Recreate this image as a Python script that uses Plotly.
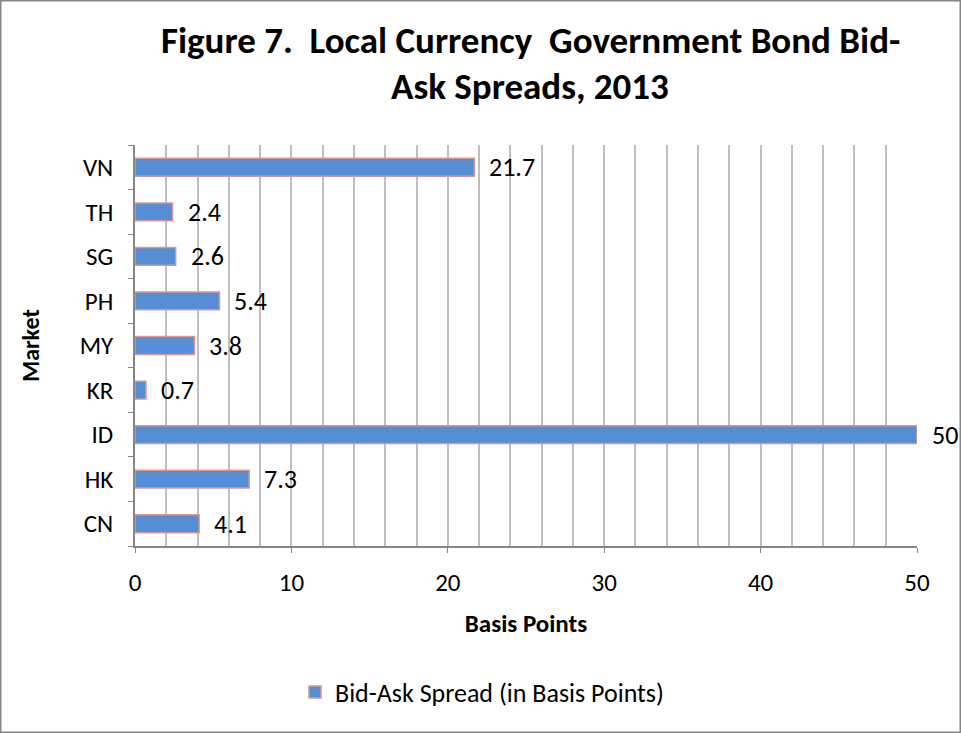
import plotly.graph_objects as go

markets = ["CN", "HK", "ID", "KR", "MY", "PH", "SG", "TH", "VN"]
spreads = [4.1, 7.3, 50, 0.7, 3.8, 5.4, 2.6, 2.4, 21.7]
labels = ["4.1", "7.3", "50", "0.7", "3.8", "5.4", "2.6", "2.4", "21.7"]
x_ticks = [0, 10, 20, 30, 40, 50]
title_lines = ["<b>Figure 7.  Local Currency  Government Bond Bid-</b>",
               "<b>Ask Spreads, 2013</b>"]

FONT = "Carlito, Calibri, Lato, sans-serif"
W, H = 961, 733
L, R, T, B = 135, 44, 145, 187
pw, ph = W - L - R, H - T - B

fig = go.Figure()
fig.add_trace(go.Bar(
    x=spreads, y=markets, orientation="h",
    name="Bid-Ask Spread (in Basis Points)",
    marker=dict(color="#558ED5", line=dict(color="#D99694", width=1.5)),
    width=0.4,
))

for m, v, t in zip(markets, spreads, labels):
    fig.add_annotation(x=v, y=m, text=t, showarrow=False, xanchor="left",
                       xshift=13, font=dict(size=26, color="black", family=FONT))

for i, (line, ypx) in enumerate(zip(title_lines, [40, 87])):
    fig.add_annotation(x=(530 - L) / pw, xref="paper", y=1 + (T - ypx) / ph, yref="paper",
                       text=line, showarrow=False, xanchor="center", yanchor="middle",
                       font=dict(size=37, color="black", family=FONT))

fig.update_layout(
    width=W, height=H,
    paper_bgcolor="white", plot_bgcolor="white",
    margin=dict(l=L, r=R, t=T, b=B, autoexpand=False),
    font=dict(family=FONT, size=24, color="black"),
    showlegend=True,
    legend=dict(orientation="h", x=(482 - L) / pw, xanchor="center",
                y=(T + ph - 692) / ph, yanchor="middle",
                font=dict(size=26), itemwidth=30),
    shapes=[dict(type="rect", xref="paper", yref="paper",
                 x0=(-L + 0.75) / pw, x1=1 + (R - 0.75) / pw,
                 y0=(-B + 0.75) / ph, y1=1 + (T - 0.75) / ph,
                 line=dict(color="#868686", width=1.5))],
)

fig.update_xaxes(range=[0, 50], tickvals=x_ticks, showgrid=True, gridcolor="#BFBFBF",
                 gridwidth=1.5,
                 minor=dict(dtick=2, showgrid=True, gridcolor="#BFBFBF", gridwidth=1.5),
                 showline=True, linecolor="#868686", linewidth=1.5,
                 ticks="outside", ticklen=5, tickcolor="#868686",
                 ticklabelstandoff=8,
                 zeroline=False, tickfont=dict(size=25),
                 title=dict(text="<b>Basis Points</b>", font=dict(size=25), standoff=18))
fig.update_yaxes(categoryorder="array", categoryarray=markets,
                 showline=True, linecolor="#868686", linewidth=1.5,
                 ticks="outside", ticklen=5, tickcolor="#868686", tickson="boundaries",
                 ticklabelstandoff=15,
                 showgrid=False, tickfont=dict(size=25),
                 title=dict(text="<b>Market</b>", font=dict(size=24), standoff=33))

fig.write_html("out.html", config={"displayModeBar": False},
               post_script="document.body.style.margin='0px';")
